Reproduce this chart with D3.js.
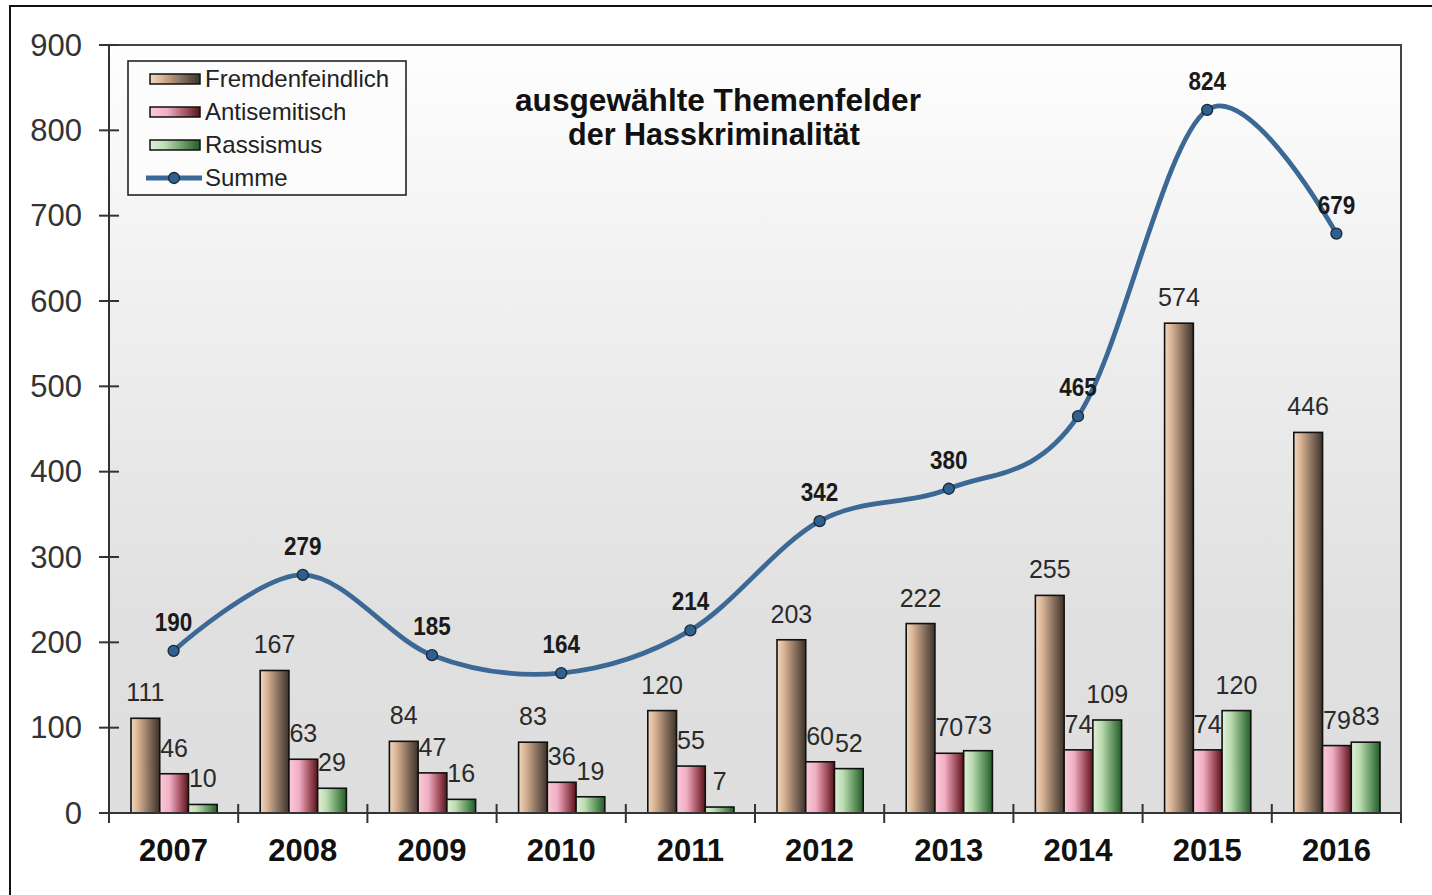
<!DOCTYPE html>
<html>
<head>
<meta charset="utf-8">
<script src="https://cdn.jsdelivr.net/npm/d3@7"></script>
<style>
  body { margin: 0; background: #fff; }
  text { font-family: "Liberation Sans", Arial, sans-serif; }
</style>
</head>
<body>
<div id="graphic"></div>
<script>
var years = ["2007", "2008", "2009", "2010", "2011", "2012", "2013", "2014", "2015", "2016"];
var fremdenfeindlich = [111, 167, 84, 83, 120, 203, 222, 255, 574, 446];
var antisemitisch = [46, 63, 47, 36, 55, 60, 70, 74, 74, 79];
var rassismus = [10, 29, 16, 19, 7, 52, 73, 109, 120, 83];
var summe = [190, 279, 185, 164, 214, 342, 380, 465, 824, 679];
var yTicks = [0, 100, 200, 300, 400, 500, 600, 700, 800, 900];
var seriesNames = ["Fremdenfeindlich", "Antisemitisch", "Rassismus"];

var series = [
    { name: seriesNames[0], values: fremdenfeindlich, grad: "gBrown" },
    { name: seriesNames[1], values: antisemitisch, grad: "gPink" },
    { name: seriesNames[2], values: rassismus, grad: "gGreen" }
];

var plotLeft = 109, plotRight = 1401, plotTop = 45, plotBottom = 813;

var svg = d3.select("#graphic")
    .append("svg")
    .attr("width", 1432)
    .attr("height", 895);

var defs = svg.append("defs");

var bg = defs.append("linearGradient")
    .attr("id", "gBg")
    .attr("x1", 0).attr("y1", 0).attr("x2", 0).attr("y2", 1);
bg.append("stop").attr("offset", "0%").attr("stop-color", "#fefefe");
bg.append("stop").attr("offset", "35%").attr("stop-color", "#efefef");
bg.append("stop").attr("offset", "75%").attr("stop-color", "#e0e0e0");
bg.append("stop").attr("offset", "100%").attr("stop-color", "#dedede");

// horizontal gradients for the bars
function barGradient(id, stops) {
    var g = defs.append("linearGradient")
        .attr("id", id)
        .attr("x1", 0).attr("y1", 0).attr("x2", 1).attr("y2", 0);
    stops.forEach(function(s) {
        g.append("stop").attr("offset", s[0]).attr("stop-color", s[1]);
    });
}
barGradient("gBrown", [["0%", "#f0d8c0"], ["25%", "#d8b292"], ["60%", "#8e7562"], ["100%", "#3c322a"]]);
barGradient("gPink", [["0%", "#fbcad8"], ["35%", "#f0aec4"], ["65%", "#b26272"], ["100%", "#5a1218"]]);
barGradient("gGreen", [["0%", "#e0f0d8"], ["30%", "#bcdcb2"], ["65%", "#6c9e68"], ["100%", "#215c28"]]);

// outer frame
svg.append("rect")
    .attr("x", 10).attr("y", 6)
    .attr("width", 1440).attr("height", 900)
    .attr("fill", "#fff")
    .attr("stroke", "#111")
    .attr("stroke-width", 2);

var x = d3.scaleBand()
    .domain(years)
    .range([plotLeft, plotRight])
    .padding(0);

var xInner = d3.scaleBand()
    .domain(seriesNames)
    .range([22, x.bandwidth() - 21])
    .padding(0);

var y = d3.scaleLinear()
    .domain([0, 900])
    .range([plotBottom, plotTop]);

// plot area
svg.append("rect")
    .attr("x", plotLeft).attr("y", plotTop)
    .attr("width", plotRight - plotLeft).attr("height", plotBottom - plotTop)
    .attr("fill", "url(#gBg)");

svg.append("path")
    .attr("d", "M" + plotLeft + "," + plotTop + "H" + plotRight + "V" + plotBottom)
    .attr("fill", "none")
    .attr("stroke", "#444")
    .attr("stroke-width", 2);

// bars
var groups = svg.selectAll("g.year")
    .data(years)
    .enter().append("g")
    .attr("class", "year")
    .attr("transform", function(d) { return "translate(" + x(d) + ",0)"; });

groups.selectAll("rect")
    .data(function(d, i) {
        return series.map(function(s) { return { name: s.name, value: s.values[i], grad: s.grad }; });
    })
    .enter().append("rect")
    .attr("x", function(d) { return xInner(d.name); })
    .attr("y", function(d) { return y(d.value); })
    .attr("width", xInner.bandwidth())
    .attr("height", function(d) { return y(0) - y(d.value); })
    .attr("fill", function(d) { return "url(#" + d.grad + ")"; })
    .attr("stroke", "#111")
    .attr("stroke-width", 1.6);

groups.selectAll("text.val")
    .data(function(d, i) {
        return series.map(function(s) { return { name: s.name, value: s.values[i] }; });
    })
    .enter().append("text")
    .attr("class", "val")
    .attr("x", function(d) { return xInner(d.name) + xInner.bandwidth() / 2; })
    .attr("y", function(d) { return y(d.value) - 17; })
    .attr("text-anchor", "middle")
    .attr("font-size", 25)
    .attr("fill", "#2a2a2a")
    .text(function(d) { return d.value; });

// y axis
var yAxis = svg.append("g");
yAxis.append("line")
    .attr("x1", plotLeft).attr("x2", plotLeft)
    .attr("y1", plotTop).attr("y2", plotBottom + 10)
    .attr("stroke", "#333").attr("stroke-width", 2);
yAxis.selectAll("line.tick")
    .data(yTicks)
    .enter().append("line")
    .attr("class", "tick")
    .attr("x1", plotLeft - 10).attr("x2", plotLeft + 10)
    .attr("y1", function(d) { return y(d); })
    .attr("y2", function(d) { return y(d); })
    .attr("stroke", "#333").attr("stroke-width", 2);
yAxis.selectAll("text")
    .data(yTicks)
    .enter().append("text")
    .attr("x", 82)
    .attr("y", function(d) { return y(d); })
    .attr("dy", "0.34em")
    .attr("text-anchor", "end")
    .attr("font-size", 31)
    .attr("fill", "#333")
    .text(function(d) { return d; });

// x axis
var xAxis = svg.append("g");
xAxis.append("line")
    .attr("x1", plotLeft).attr("x2", plotRight)
    .attr("y1", plotBottom).attr("y2", plotBottom)
    .attr("stroke", "#333").attr("stroke-width", 2);
var bounds = years.slice(1).map(function(d) { return x(d); });
xAxis.selectAll("line.tick")
    .data(bounds)
    .enter().append("line")
    .attr("class", "tick")
    .attr("x1", function(d) { return d; })
    .attr("x2", function(d) { return d; })
    .attr("y1", plotBottom - 9).attr("y2", plotBottom + 10)
    .attr("stroke", "#333").attr("stroke-width", 2);
xAxis.append("line")
    .attr("x1", plotRight).attr("x2", plotRight)
    .attr("y1", plotBottom).attr("y2", plotBottom + 10)
    .attr("stroke", "#333").attr("stroke-width", 2);
xAxis.selectAll("text")
    .data(years)
    .enter().append("text")
    .attr("x", function(d) { return x(d) + x.bandwidth() / 2; })
    .attr("y", 861)
    .attr("text-anchor", "middle")
    .attr("font-size", 31)
    .attr("font-weight", "bold")
    .attr("fill", "#111")
    .text(function(d) { return d; });

// Summe line
var line = d3.line()
    .x(function(d, i) { return x(years[i]) + x.bandwidth() / 2; })
    .y(function(d) { return y(d); })
    .curve(d3.curveCardinal.tension(0));

svg.append("path")
    .datum(summe)
    .attr("d", line)
    .attr("fill", "none")
    .attr("stroke", "#3b6894")
    .attr("stroke-width", 4.8);

svg.selectAll("circle.pt")
    .data(summe)
    .enter().append("circle")
    .attr("class", "pt")
    .attr("cx", function(d, i) { return x(years[i]) + x.bandwidth() / 2; })
    .attr("cy", function(d) { return y(d); })
    .attr("r", 5.5)
    .attr("fill", "#2f6090")
    .attr("stroke", "#1b2836")
    .attr("stroke-width", 1.3);

// condensed bold labels for the sum
svg.selectAll("text.sum")
    .data(summe)
    .enter().append("text")
    .attr("class", "sum")
    .attr("x", function(d, i) { return x(years[i]) + x.bandwidth() / 2; })
    .attr("y", function(d) { return y(d) - 20; })
    .attr("text-anchor", "middle")
    .attr("font-size", 26)
    .attr("font-weight", "bold")
    .attr("fill", "#1a1a1a")
    .attr("textLength", function(d) { return String(d).length * 12.5; })
    .attr("lengthAdjust", "spacingAndGlyphs")
    .text(function(d) { return d; });

// title
var title = svg.append("g").attr("font-weight", "bold").attr("fill", "#111");
title.append("text")
    .attr("x", 718).attr("y", 111)
    .attr("text-anchor", "middle")
    .attr("font-size", 30.5)
    .attr("textLength", 406)
    .attr("lengthAdjust", "spacingAndGlyphs")
    .text("ausgewählte Themenfelder");
title.append("text")
    .attr("x", 714).attr("y", 145)
    .attr("text-anchor", "middle")
    .attr("font-size", 30.5)
    .attr("textLength", 292)
    .attr("lengthAdjust", "spacingAndGlyphs")
    .text("der Hasskriminalität");

// legend
var legend = svg.append("g");
legend.append("rect")
    .attr("x", 128).attr("y", 61)
    .attr("width", 278).attr("height", 134)
    .attr("fill", "#fcfcfc")
    .attr("stroke", "#222")
    .attr("stroke-width", 1.6);

var rowY = [79, 112, 145, 178];
series.forEach(function(s, i) {
    legend.append("rect")
        .attr("x", 150).attr("y", rowY[i] - 5)
        .attr("width", 50).attr("height", 10)
        .attr("fill", "url(#" + s.grad + ")")
        .attr("stroke", "#111")
        .attr("stroke-width", 1.5);
    legend.append("text")
        .attr("x", 205).attr("y", rowY[i])
        .attr("dy", "0.34em")
        .attr("font-size", 24)
        .attr("fill", "#222")
        .text(s.name);
});
legend.append("line")
    .attr("x1", 146).attr("x2", 202)
    .attr("y1", rowY[3]).attr("y2", rowY[3])
    .attr("stroke", "#3b6894").attr("stroke-width", 4.8);
legend.append("circle")
    .attr("cx", 174).attr("cy", rowY[3]).attr("r", 5.5)
    .attr("fill", "#2f6090").attr("stroke", "#1b2836").attr("stroke-width", 1.3);
legend.append("text")
    .attr("x", 205).attr("y", rowY[3])
    .attr("dy", "0.34em")
    .attr("font-size", 24)
    .attr("fill", "#222")
    .text("Summe");
</script>
</body>
</html>
